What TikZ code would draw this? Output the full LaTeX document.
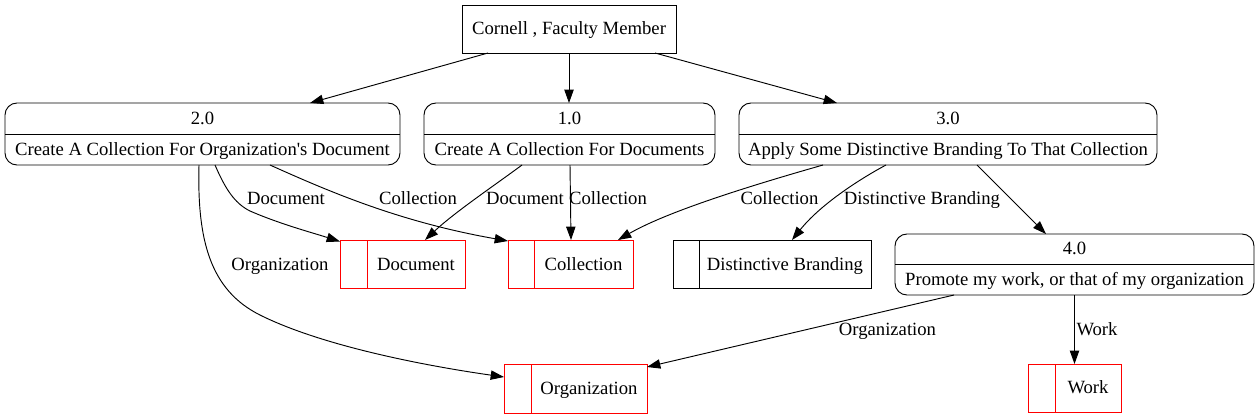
\documentclass[tikz,border=0pt]{standalone}
\usepackage{fontspec}
\setmainfont{Liberation Serif}
\usetikzlibrary{arrows.meta,calc}
\begin{document}
\begin{tikzpicture}[x=0.75pt,y=-0.75pt,line width=0.7pt,
  proc/.style={draw, rounded corners=9pt, inner sep=0pt, outer sep=0pt, minimum height=46.5pt},
  ext/.style={draw, inner sep=0pt, outer sep=0pt, minimum height=36pt},
  store/.style={draw=red, inner sep=0pt, outer sep=0pt, minimum height=36pt},
  txt/.style={inner sep=0pt, anchor=base, font=\rmfamily\fontsize{14pt}{16pt}\selectfont},
  flow/.style={-{Triangle[length=10pt,width=7pt]}}]
\useasboundingbox (0,0) rectangle (1259,419);
% external entity
\node[ext, minimum width=160.5pt] (cor) at (569,29) {};
\node[txt] (cort) at (569,34) {Cornell , Faculty Member};
% processes
\node[proc, minimum width=296.25pt] (p2) at (202.5,134) {};
\draw (p2.west) -- (p2.east);
\node[txt] (p2a) at (202.5,124) {2.0};
\node[txt] (p2b) at (202.5,155) {Create A Collection For Organization\textquotesingle s Document};
\node[proc, minimum width=218.25pt] (p1) at (569.5,134) {};
\draw (p1.west) -- (p1.east);
\node[txt] (p1a) at (569.5,124) {1.0};
\node[txt] (p1b) at (569.5,155) {Create A Collection For Documents};
\node[proc, minimum width=313.5pt] (p3) at (948,134) {};
\draw (p3.west) -- (p3.east);
\node[txt] (p3a) at (948,124) {3.0};
\node[txt] (p3b) at (948,155) {Apply Some Distinctive Branding To That Collection};
\node[proc, minimum width=269.25pt, minimum height=45.75pt] (p4) at (1074.5,264.5) {};
\draw (p4.west) -- (p4.east);
\node[txt] (p4a) at (1074.5,254) {4.0};
\node[txt] (p4b) at (1074.5,285) {Promote my work, or that of my organization};
% stores
\node[store, minimum width=93.75pt] (doc) at (402.5,264) {};
\draw[red] ($(doc.north west)+(27,0)$) -- ($(doc.south west)+(27,0)$);
\node[txt] (doct) at (416,270) {Document};
\node[store, minimum width=93.75pt] (coll) at (570.5,264) {};
\draw[red] ($(coll.north west)+(26,0)$) -- ($(coll.south west)+(26,0)$);
\node[txt] (collt) at (583.5,270) {Collection};
\node[ext, minimum width=148.5pt] (dist) at (772,264) {};
\draw ($(dist.north west)+(26,0)$) -- ($(dist.south west)+(26,0)$);
\node[txt] (distt) at (785,270) {Distinctive Branding};
\node[store, minimum width=107.25pt, minimum height=36.75pt] (org) at (575.5,388.5) {};
\draw[red] ($(org.north west)+(27,0)$) -- ($(org.south west)+(27,0)$);
\node[txt] (orgt) at (589,394) {Organization};
\node[store, minimum width=69.75pt] (work) at (1074.5,388) {};
\draw[red] ($(work.north west)+(27,0)$) -- ($(work.south west)+(27,0)$);
\node[txt] (workt) at (1088,393) {Work};
% connectors from Cornell
\draw[flow] ($(cor.south)+(-81,0)$) -- ($(p2.north)+(107.5,0)$);
\draw[flow] (cor.south) -- (cor.south |- p1.north);
\draw[flow] ($(cor.south)+(86,0)$) -- ($(p3.north)+(-111,0)$);
% from 2.0
\draw[flow] ($(p2.south)+(-3.5,0)$) .. controls (197,240) and (210,290) .. (260,315)
  .. controls (320,345) and (420,365) .. ($(org.north west)+(0,13)$);
\draw[flow] ($(p2.south)+(12.5,0)$) .. controls (225,188) and (234,203) .. (250,211)
  .. controls (280,224) and (310,232) .. ($(doc.north west)+(0,1.5)$);
\draw[flow] ($(p2.south)+(67.5,0)$) .. controls (330,192) and (400,222) .. ($(coll.north west)+(0,1)$);
% from 1.0
\draw[flow] ($(p1.south)+(-47.5,0)$) .. controls (495,185) and (455,212) .. ($(doc.north)+(22.5,0)$);
\draw[flow] ($(p1.south)+(0.5,0)$) -- ($(coll.north)+(0.5,0)$);
% from 3.0
\draw[flow] ($(p3.south)+(-125,0)$) .. controls (760,183) and (670,210) .. ($(coll.north)+(47.5,0)$);
\draw[flow] ($(p3.south)+(-62,0)$) .. controls (858,180) and (820,205) .. ($(dist.north)+(20,0)$);
\draw[flow] ($(p3.south)+(29,0)$) -- ($(p4.north)+(-28.5,0)$);
% from 4.0
\draw[flow] ($(p4.south)+(-120.5,0)$) -- ($(org.north east)+(0,3)$);
\draw[flow] (p4.south) -- (work.north);
% edge labels
\node[txt] (l1) at (286,204) {Document};
\node[txt] (l2) at (418,204) {Collection};
\node[txt] (l3) at (280,270) {Organization};
\node[txt] (l4) at (525,204) {Document};
\node[txt] (l5) at (608,204) {Collection};
\node[txt] (l6) at (779.5,204) {Collection};
\node[txt] (l7) at (922,204) {Distinctive Branding};
\node[txt] (l8) at (887.5,335) {Organization};
\node[txt] (l9) at (1097,335) {Work};
\end{tikzpicture}
\end{document}
